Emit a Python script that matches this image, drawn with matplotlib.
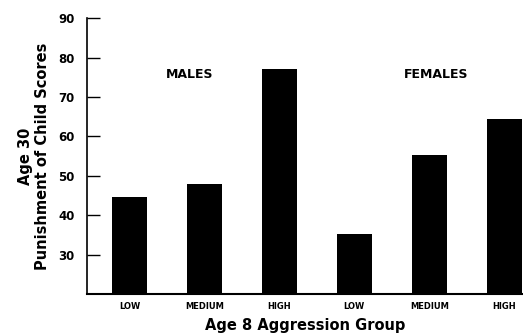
import matplotlib
matplotlib.use('Agg')
import matplotlib.pyplot as plt

groups = ['LOW', 'MEDIUM', 'HIGH', 'LOW', 'MEDIUM', 'HIGH']
scores = [44.5, 48, 77, 35.3, 55.2, 64.5]
panel_labels = ['MALES', 'FEMALES']
yticks = [30, 40, 50, 60, 70, 80, 90]

plt.rcParams['font.family'] = ['DejaVu Sans']

fig = plt.figure(figsize=(5.23, 3.36), dpi=100)
ax = fig.add_axes([0.166, 0.125, 0.834, 0.821])

x = list(range(len(groups)))
ax.bar(x, [s - 20 for s in scores], bottom=20, width=0.46, color='black')

ax.set_xlim(-0.57, 5.25)
ax.set_ylim(20, 90)
ax.set_yticks(yticks)
ax.set_yticklabels([str(t) for t in yticks], fontsize=8.5, fontweight='bold')
ax.set_xticks(x)
ax.set_xticklabels(groups, fontsize=6, fontweight='bold')
ax.tick_params(axis='y', direction='in', length=9, width=1, pad=9)
ax.tick_params(axis='x', length=0, pad=6)

for s in ['top', 'right']:
    ax.spines[s].set_visible(False)
ax.spines['left'].set_linewidth(1.2)
ax.spines['bottom'].set_linewidth(1.5)

ax.text(0.8, 75.6, panel_labels[0], ha='center', va='center', fontsize=9, fontweight='bold')
ax.text(4.09, 75.6, panel_labels[1], ha='center', va='center', fontsize=9, fontweight='bold')

ax.set_ylabel('Age 30\nPunishment of Child Scores', fontsize=10.5, fontweight='bold', labelpad=6, linespacing=1.1)
ax.set_xlabel('Age 8 Aggression Group', fontsize=10.5, fontweight='semibold', labelpad=5)

fig.savefig('out.png', dpi=100)
